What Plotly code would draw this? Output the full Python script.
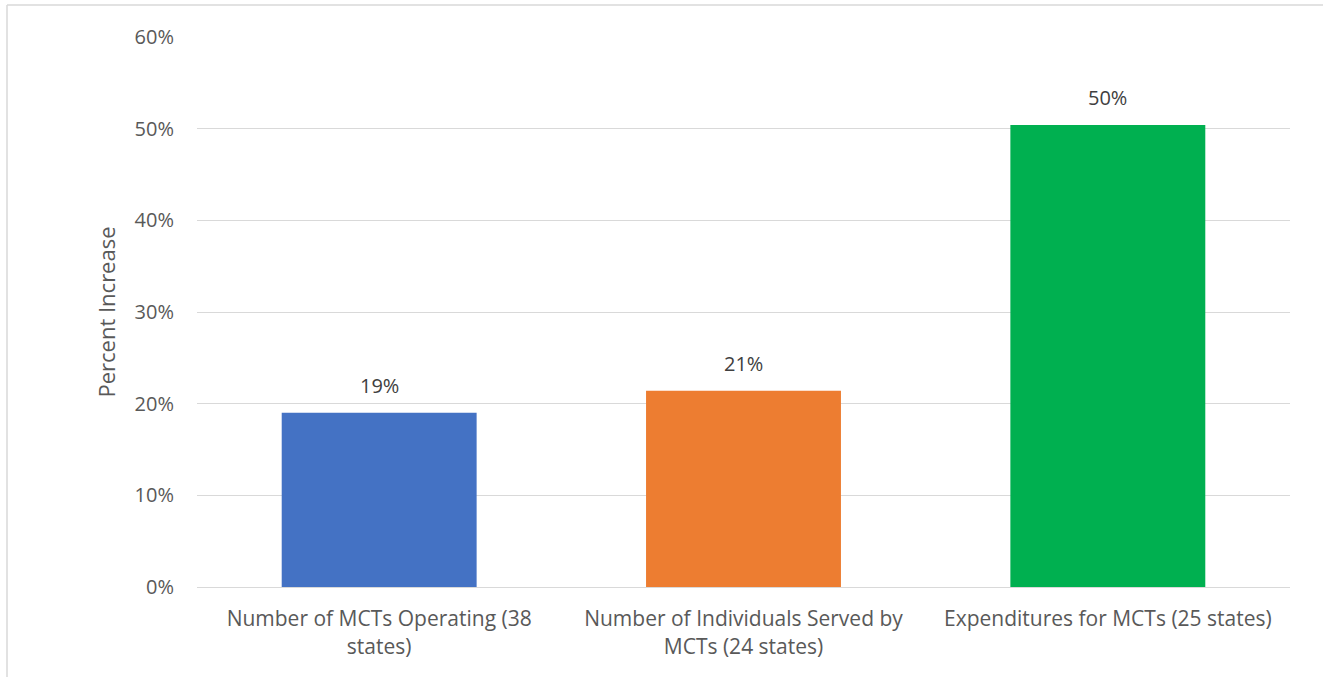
import plotly.graph_objects as go

categories = ["Number of MCTs Operating (38<br>states)",
              "Number of Individuals Served by<br>MCTs (24 states)",
              "Expenditures for MCTs (25 states)"]
values = [0.19, 0.214, 0.504]
labels = ["19%", "21%", "50%"]
colors = ["#4472C4", "#ED7D31", "#00B050"]

FONT = "Open Sans"
TXT = "#595959"

fig = go.Figure(go.Bar(
    x=categories, y=values, marker_color=colors, marker_line_width=0,
    hoverinfo="x+y",
))

for c, v, lab in zip(categories, values, labels):
    fig.add_annotation(x=c, y=v, text=lab, showarrow=False, yanchor="bottom",
                       yshift=12, font=dict(family=FONT, size=20, color="#404040"))

L, R, T, B = 197, 33, 37, 90
W, H = 1323, 677
pw, ph = W - L - R, H - T - B

fig.update_layout(
    width=W, height=H,
    margin=dict(l=L, r=R, t=T, b=B),
    paper_bgcolor="white", plot_bgcolor="white",
    bargap=0.465, showlegend=False,
    font=dict(family=FONT, size=19, color=TXT),
    xaxis=dict(showgrid=False, showline=True, linecolor="#d9d9d9", linewidth=1,
               ticks="", ticklabelstandoff=13,
               tickfont=dict(family=FONT, size=21, color=TXT)),
    yaxis=dict(range=[0, 0.6], dtick=0.1, tickformat=".0%", showgrid=True,
               gridcolor="#d9d9d9", gridwidth=1, zeroline=False, ticks="",
               ticklabelstandoff=22,
               tickfont=dict(family=FONT, size=20, color=TXT),
               title=dict(text="Percent Increase", standoff=12,
                          font=dict(family=FONT, size=22, color=TXT))),
    shapes=[
        dict(type="line", xref="paper", yref="paper",
             x0=(7 - L) / pw, x1=(W - L) / pw,
             y0=1 + (T - 5) / ph, y1=1 + (T - 5) / ph,
             line=dict(color="#d9d9d9", width=1.5)),
        dict(type="line", xref="paper", yref="paper",
             x0=(7 - L) / pw, x1=(7 - L) / pw,
             y0=1 + (T - 5) / ph, y1=-B / ph,
             line=dict(color="#d9d9d9", width=1.5)),
    ],
)

fig.write_html("out.html", config={"displayModeBar": False},
               post_script="document.body.style.margin='0';document.body.style.overflow='hidden';")
